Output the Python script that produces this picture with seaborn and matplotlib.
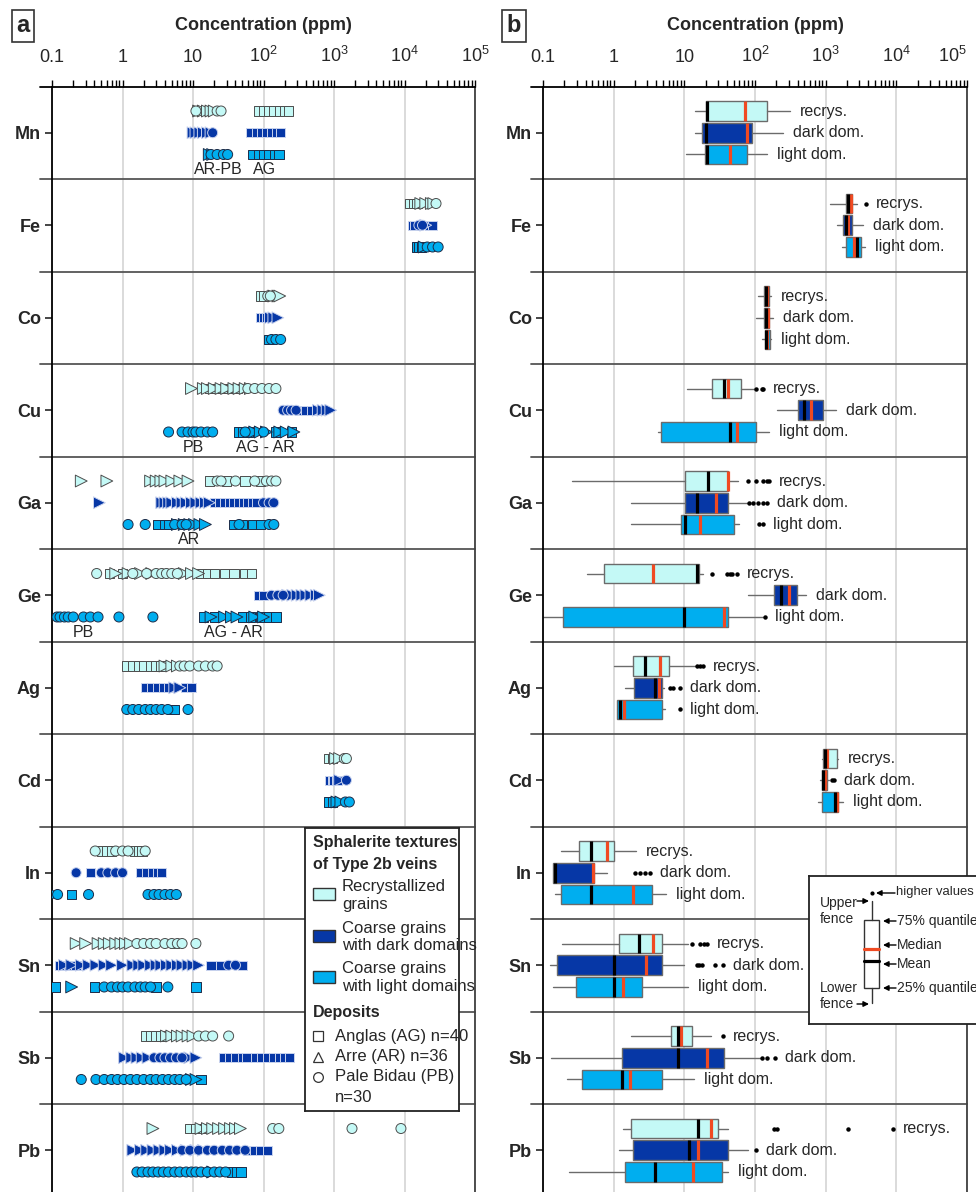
import numpy as np
import pandas as pd
import matplotlib
matplotlib.use("Agg")
import matplotlib.pyplot as plt
from matplotlib.patches import Rectangle
from matplotlib.ticker import LogLocator, NullFormatter
import seaborn as sns

ELEMENTS = ["Mn", "Fe", "Co", "Cu", "Ga", "Ge", "Ag", "Cd", "In", "Sn", "Sb", "Pb"]
TEXTURES = ["recrys", "dark", "light"]
BOX_NAMES = ["recrys.", "dark dom.", "light dom."]
DEPOSITS = ["AG", "AR", "PB"]

# panel a: single spot analyses (ppm), texture -> deposit -> values
MN_PTS = {
    "recrys": {"AG": [85, 100, 120, 140, 170, 200, 225], "AR": [12, 14, 16, 18, 20], "PB": [11, 22, 25]},
    "dark": {"AG": [65, 80, 95, 110, 130, 155, 175], "AR": [10, 11, 12.5, 14, 16, 18], "PB": [19]},
    "light": {"AG": [70, 85, 100, 120, 145, 165], "AR": [17, 19], "PB": [18, 22, 27, 31]},
}
FE_PTS = {
    "recrys": {"AG": [12000, 13500, 15000], "AR": [17000, 20000, 24000, 26000], "PB": [28000]},
    "dark": {"AG": [13000, 14000, 23000, 25000], "AR": [20000], "PB": [16000, 18000]},
    "light": {"AG": [15000, 16000, 17500], "AR": [19000], "PB": [21000, 25000, 30000]},
}
CO_PTS = {
    "recrys": {"AG": [92, 100], "AR": [140, 160, 170], "PB": [115, 125]},
    "dark": {"AG": [90, 100, 110], "AR": [125, 140, 160], "PB": []},
    "light": {"AG": [120], "AR": [], "PB": [130, 150, 175]},
}
CU_PTS = {
    "recrys": {"AG": [17, 22, 28, 35, 42], "AR": [9.5, 14, 16, 20, 25, 30, 38, 45, 55, 65], "PB": [60, 75, 95, 120, 150]},
    "dark": {"AG": [330, 400, 480, 560, 650], "AR": [600, 700, 800, 900], "PB": [190, 220, 250, 290]},
    "light": {"AG": [45, 50, 60, 150, 250], "AR": [75, 90, 110, 170, 210, 270],
              "PB": [4.5, 7, 8.5, 10, 11, 13, 16, 19, 55, 100]},
}
GA_PTS = {
    "recrys": {"AG": [17, 30, 55, 90], "AR": [0.26, 0.6, 2.5, 3, 3.5, 4, 5, 6.5, 8.5],
               "PB": [22, 25, 40, 75, 110, 130, 150]},
    "dark": {"AG": [20, 24, 28, 33, 38, 45, 52, 60, 70, 80],
             "AR": [0.47, 3.6, 4, 4.5, 5, 6, 7, 8, 9.5, 11, 13, 15, 17], "PB": [100, 120, 140]},
    "light": {"AG": [3.2, 4, 4.5, 38, 50, 70, 90], "AR": [6, 7.5, 9, 10.5, 12.5, 15],
              "PB": [1.2, 2.1, 5.5, 7, 8, 45, 120, 140]},
}
GE_PTS = {
    "recrys": {"AG": [0.65, 1.0, 13, 16, 20, 28, 38, 55, 68], "AR": [0.8, 1.2, 1.8, 2.6, 7.5, 9.5, 12],
               "PB": [0.43, 1.4, 2.2, 3, 3.6, 4.2, 5, 6]},
    "dark": {"AG": [85, 100], "AR": [220, 260, 300, 350, 400, 470, 560, 620], "PB": [130, 160, 190]},
    "light": {"AG": [14, 20, 50, 65, 90, 120, 150], "AR": [18, 28, 35, 42, 75, 100],
              "PB": [0.118, 0.13, 0.15, 0.17, 0.2, 0.28, 0.35, 0.45, 0.89, 2.7]},
}
AG_PTS = {
    "recrys": {"AG": [1.15, 1.4, 1.7, 2.0, 2.5, 3.0, 3.5], "AR": [4.0, 5.0, 6.0], "PB": [6.5, 7.5, 9, 12, 15, 19, 22]},
    "dark": {"AG": [2.1, 2.6, 3.2, 3.8, 4.5, 8, 9.5], "AR": [5.5, 6.5], "PB": []},
    "light": {"AG": [5.0, 5.5], "AR": [], "PB": [1.15, 1.4, 1.7, 2.1, 2.5, 3.0, 3.6, 4.4, 8.5]},
}
CD_PTS = {
    "recrys": {"AG": [850, 950], "AR": [1050, 1200], "PB": [1400, 1500]},
    "dark": {"AG": [880, 950, 1000, 1100], "AR": [1200], "PB": [1500]},
    "light": {"AG": [850, 950], "AR": [1100, 1250], "PB": [1450, 1650]},
}
IN_PTS = {
    "recrys": {"AG": [0.5, 0.6, 0.7, 1.5, 1.7, 1.9], "AR": [], "PB": [0.41, 0.8, 1.0, 1.2, 2.1]},
    "dark": {"AG": [0.35, 1.8, 2.2, 2.7, 3.2, 3.6], "AR": [], "PB": [0.22, 0.5, 0.62, 0.8, 1.0]},
    "light": {"AG": [0.19], "AR": [0.11], "PB": [0.12, 0.33, 2.3, 2.8, 3.3, 4.0, 4.8, 5.8]},
}
SN_PTS = {
    "recrys": {"AG": [5.5], "AR": [0.22, 0.3, 0.45, 0.55, 0.65, 0.8, 0.95, 1.1, 1.3],
               "PB": [1.6, 2.0, 2.5, 3.0, 4, 5, 6, 7, 11]},
    "dark": {"AG": [0.13, 0.17, 0.22, 18, 25, 50],
             "AR": [0.15, 0.19, 0.26, 0.33, 0.42, 0.55, 0.7, 1.0, 1.4, 1.7, 2.0, 2.5, 3.0, 3.5, 4.2,
                    5, 6, 7, 8.5, 10, 12], "PB": [32, 40]},
    "light": {"AG": [0.11, 0.4, 3.0, 11], "AR": [0.19], "PB": [0.55, 0.7, 0.85, 1.0, 1.2, 1.5, 1.8, 2.1, 2.5, 4.4]},
}
SB_PTS = {
    "recrys": {"AG": [2.1, 2.5, 3.0, 3.5], "AR": [4.2, 5.0, 6.0, 7.0, 8.5, 10], "PB": [12, 15, 19, 32]},
    "dark": {"AG": [27, 33, 40, 50, 58, 78, 95, 115, 140, 170, 200, 235],
             "AR": [1.07, 1.35, 1.6, 1.9, 2.3, 9, 11], "PB": [2.8, 3.4, 4.0, 4.8, 5.8, 7]},
    "light": {"AG": [13], "AR": [9.5, 11],
              "PB": [0.26, 0.42, 0.55, 0.7, 0.85, 1.05, 1.3, 1.6, 2.0, 2.5, 3.0, 3.7, 4.5, 5.5, 6.5, 8]},
}
PB_PTS = {
    "recrys": {"AG": [9, 11, 14], "AR": [2.7, 13, 16, 19, 23, 28, 34, 40, 47], "PB": [135, 165, 1800, 8900]},
    "dark": {"AG": [60, 75, 90, 115], "AR": [1.4, 1.8, 2.2, 2.7, 3.3, 4.0, 4.8, 6, 8, 11, 14],
             "PB": [7, 9, 12, 16, 20, 26, 33, 42, 55]},
    "light": {"AG": [35, 42, 48], "AR": [19],
              "PB": [1.6, 1.9, 2.3, 2.7, 3.2, 3.8, 4.5, 5.5, 6.5, 8, 9.5, 11, 13, 16, 20, 24, 29]},
}
POINTS = [MN_PTS, FE_PTS, CO_PTS, CU_PTS, GA_PTS, GE_PTS, AG_PTS, CD_PTS, IN_PTS, SN_PTS, SB_PTS, PB_PTS]

# deposit notes written under some groups in panel a (element, text, ppm)
A_NOTES = [("Mn", "AR-PB", 22.6), ("Mn", "AG", 105), ("Cu", "PB", 10), ("Cu", "AG - AR", 105),
           ("Ga", "AR", 8.8), ("Ge", "PB", 0.275), ("Ge", "AG - AR", 37)]

# panel b: (lower fence, q25, median, mean, q75, upper fence, higher values)
BOX_RECRYS = {
    "Mn": (14, 20, 72, 20.8, 147, 312, []),
    "Fe": (1150, 1930, 2250, 2050, 2340, 2750, [3700]),
    "Co": (110, 134, 147, 142, 160, 170, []),
    "Cu": (10.9, 25, 41, 36, 63, 100, [105, 125, 130]),
    "Ga": (0.26, 10.2, 41, 21.6, 42, 57, [80, 103, 130, 147, 160]),
    "Ge": (0.42, 0.73, 3.6, 15, 16, 18.3, [25, 40, 44, 48, 55]),
    "Ag": (1.0, 1.87, 4.5, 2.8, 6.0, 14, [15, 16.5, 18.5]),
    "Cd": (890, 910, 1050, 970, 1440, 1480, []),
    "In": (0.18, 0.32, 0.80, 0.48, 1.0, 2.1, []),
    "Sn": (0.185, 1.19, 3.6, 2.3, 4.8, 11.2, [12.7, 16.6, 18.8, 21]),
    "Sb": (1.75, 6.5, 8.9, 8.1, 12.7, 23.8, [35]),
    "Pb": (1.35, 1.75, 23.8, 15.5, 30, 41, [183, 205, 2050, 9100]),
}
BOX_DARK = {
    "Mn": (14, 17.7, 77, 20, 90, 248, []),
    "Fe": (1450, 1750, 2100, 1950, 2340, 3400, []),
    "Co": (105, 134, 152, 142, 160, 182, []),
    "Cu": (205, 405, 620, 490, 910, 1390, []),
    "Ga": (1.76, 10.2, 28, 15, 41, 77, [82, 93, 110, 130, 147]),
    "Ge": (80, 186, 300, 230, 390, 525, []),
    "Ag": (1.45, 1.93, 4.4, 3.8, 4.8, 5.2, [6.2, 6.9, 8.7]),
    "Cd": (830, 880, 970, 910, 1050, 1100, [1230, 1300]),
    "In": (0.14, 0.14, 0.51, 0.15, 0.53, 0.8, [2.0, 2.35, 2.8, 3.3]),
    "Sn": (0.125, 0.157, 2.9, 1.0, 4.8, 9.8, [15, 16, 17.7, 27, 35]),
    "Sb": (0.13, 1.3, 20.8, 8.1, 36, 117, [125, 147, 190]),
    "Pb": (1.19, 1.87, 15.5, 11.6, 41, 80, [103]),
}
BOX_LIGHT = {
    "Mn": (10.5, 19.5, 44, 20.8, 77, 147, []),
    "Fe": (1700, 1930, 2500, 2750, 3150, 3580, []),
    "Co": (125, 138, 147, 142, 165, 170, []),
    "Cu": (4.2, 4.6, 55, 44, 103, 160, []),
    "Ga": (1.76, 8.9, 16.6, 10.2, 50, 59, [113, 130]),
    "Ge": (0.1, 0.19, 36, 9.9, 42, 130, [140]),
    "Ag": (1.1, 1.12, 1.4, 1.22, 4.8, 5.3, [8.7]),
    "Cd": (770, 880, 1450, 1350, 1480, 1750, []),
    "In": (0.15, 0.18, 1.9, 0.48, 3.5, 5.5, []),
    "Sn": (0.14, 0.29, 1.35, 1.0, 2.5, 11.2, []),
    "Sb": (0.22, 0.36, 1.7, 1.3, 4.8, 13.7, []),
    "Pb": (0.23, 1.45, 13.2, 3.8, 34, 41, []),
}
BOXES = [BOX_RECRYS, BOX_DARK, BOX_LIGHT]

XTICKS = [0.1, 1, 10, 100, 1e3, 1e4, 1e5]
XTICK_LABELS = ["0.1", "1", "10", r"$\mathregular{10^2}$", r"$\mathregular{10^3}$",
                r"$\mathregular{10^4}$", r"$\mathregular{10^5}$"]

FILL = {"recrys": "#c4f9f6", "dark": "#0637a6", "light": "#00aeef"}
EDGE = {"recrys": "#4d4d4d", "dark": "#c9d3ee", "light": "#1d2c48"}
OFFSET = {"recrys": -0.235, "dark": 0.0, "light": 0.235}
MARKERS = {"AG": "s", "AR": ">", "PB": "o"}
SIZES = {"AG": 46, "AR": 72, "PB": 52}
RED = "#f04a22"

sns.set_style("white")
plt.rcParams["font.family"] = ["Liberation Sans", "DejaVu Sans"]
plt.rcParams["mathtext.fontset"] = "custom"
plt.rcParams["mathtext.rm"] = "Liberation Sans"

W, H = 976, 1192
fig = plt.figure(figsize=(W / 100, H / 100), dpi=100)


def px_rect(x0, y0, x1, y1):
    return [x0 / W, 1 - y1 / H, (x1 - x0) / W, (y1 - y0) / H]


def style_axis(ax, width_px):
    ax.set_xscale("log")
    ax.set_xlim(0.1, 1e5)
    ax.set_ylim(12, 0)
    ax.set_xticks(XTICKS, labels=XTICK_LABELS)
    ax.xaxis.set_minor_locator(LogLocator(base=10, subs=np.arange(2, 10)))
    ax.xaxis.set_minor_formatter(NullFormatter())
    ax.xaxis.tick_top()
    ax.tick_params(axis="x", which="both", top=True, bottom=False, labeltop=True, labelbottom=False,
                   direction="out", length=5, width=1, color="black", pad=10, labelsize=13)
    ax.set_yticks(np.arange(12) + 0.5, labels=ELEMENTS)
    ax.tick_params(axis="y", left=True, direction="out", length=5, width=1.2, pad=3, labelsize=13)
    for lab in ax.get_yticklabels():
        lab.set_fontweight("bold")
    ax.set_xlabel("")
    ax.set_ylabel("")
    ax.grid(axis="x", which="major", color="#d4d4d4", lw=1.2)
    ax.set_axisbelow(True)
    for side in ["top", "left"]:
        ax.spines[side].set_color("black")
        ax.spines[side].set_linewidth(1.3)
    ax.spines["right"].set_color("#404040")
    ax.spines["right"].set_linewidth(1.3)
    ax.spines["bottom"].set_visible(False)
    ext = -12 / width_px
    for r in range(1, 12):
        ax.axhline(r, xmin=ext, xmax=1, color="#555555", lw=1.3, clip_on=False, zorder=2)
    ax.axhline(0, xmin=ext, xmax=0, color="black", lw=1.3, clip_on=False)


# ---------------- panel a ----------------
ax_a = fig.add_axes(px_rect(52, 86.5, 475, 1196.5))
ax_a.set_xscale("log")
rows = []
for i, (el, pts) in enumerate(zip(ELEMENTS, POINTS)):
    for tex in TEXTURES:
        for dep in DEPOSITS:
            for v in pts[tex][dep]:
                rows.append({"element": el, "texture": tex, "deposit": dep, "value": v,
                             "y": i + 0.5 + OFFSET[tex]})
df = pd.DataFrame(rows)
for tex in TEXTURES:
    sub = df[df["texture"] == tex]
    sns.scatterplot(data=sub, x="value", y="y", style="deposit", style_order=DEPOSITS, markers=MARKERS,
                    size="deposit", size_order=DEPOSITS, sizes=SIZES,
                    color=FILL[tex], edgecolor=EDGE[tex], linewidth=0.7, legend=False,
                    ax=ax_a, zorder=3)
style_axis(ax_a, 423)
for el, txt, xv in A_NOTES:
    ax_a.text(xv, ELEMENTS.index(el) + 0.9, txt, ha="center", va="center", fontsize=11.5)

# ---------------- panel b ----------------
ax_b = fig.add_axes(px_rect(543, 86.5, 967, 1196.5))
ax_b.set_xscale("log")
for t, (tex, table) in enumerate(zip(TEXTURES, BOXES)):
    stats = []
    for el in ELEMENTS:
        lo, q1, med, mean, q3, hi, fl = table[el]
        stats.append({"whislo": lo, "q1": q1, "med": med, "mean": mean, "q3": q3,
                      "whishi": hi, "fliers": np.array(fl, dtype=float)})
    pos = [i + 0.5 + OFFSET[tex] for i in range(len(ELEMENTS))]
    ax_b.bxp(stats, positions=pos, widths=0.215, orientation="horizontal", patch_artist=True,
             showmeans=True, meanline=True, showcaps=False, manage_ticks=False,
             boxprops=dict(facecolor=FILL[tex], edgecolor="#6b6b6b", linewidth=1.0),
             medianprops=dict(color=RED, linewidth=2.3),
             meanprops=dict(color="black", linewidth=2.3, linestyle="-"),
             whiskerprops=dict(color="#6b6b6b", linewidth=1.0),
             flierprops=dict(marker="o", markerfacecolor="black", markeredgecolor="black",
                             markersize=2.2, linestyle="none"))
    for el, y in zip(ELEMENTS, pos):
        lo, q1, med, mean, q3, hi, fl = table[el]
        end = max([hi] + list(fl))
        ax_b.text(end * 1.38, y, BOX_NAMES[t], ha="left", va="center", fontsize=11.5)
style_axis(ax_b, 424)
ax_b.get_xticklabels()[-1].set_horizontalalignment("right")

# ---------------- titles ----------------
for cx, letter, lx in [(263, "a", 23), (755, "b", 514)]:
    fig.text(cx / W, 1 - 25 / H, "Concentration (ppm)", ha="center", va="center",
             fontsize=13, fontweight="bold")
    fig.text(lx / W, 1 - 26 / H, letter, ha="center", va="center", fontsize=17, fontweight="bold",
             bbox=dict(boxstyle="square,pad=0.2", fc="white", ec="#333333", lw=1.2))


def px_axes(x0, y0, x1, y1):
    ax = fig.add_axes(px_rect(x0, y0, x1, y1))
    ax.set_xlim(x0, x1)
    ax.set_ylim(y1, y0)
    ax.set_xticks([])
    ax.set_yticks([])
    ax.set_facecolor("white")
    for s in ax.spines.values():
        s.set_visible(True)
        s.set_color("#222222")
        s.set_linewidth(1.3)
    return ax


# ---------------- legend panel a ----------------
lg = px_axes(305, 828, 459, 1111)
kw = dict(va="center", ha="left", clip_on=False)
lg.text(313, 843, "Sphalerite textures", fontsize=11.5, fontweight="bold", **kw)
lg.text(313, 864, "of Type 2b veins", fontsize=11.5, fontweight="bold", **kw)
for tex, ytop, l1, l2 in [("recrys", 888, "Recrystallized", "grains"),
                          ("dark", 930, "Coarse grains", "with dark domains"),
                          ("light", 971, "Coarse grains", "with light domains")]:
    lg.add_patch(Rectangle((313, ytop), 22, 12, facecolor=FILL[tex], edgecolor="#333333", lw=1))
    lg.text(342, ytop - 2, l1, fontsize=12, **kw)
    lg.text(342, ytop + 16, l2, fontsize=12, **kw)
lg.text(313, 1013, "Deposits", fontsize=11.5, fontweight="bold", **kw)
for mk, y, txt in [("s", 1036, "Anglas (AG) n=40"), ("^", 1057, "Arre (AR) n=36"),
                   ("o", 1077, "Pale Bidau (PB)")]:
    lg.plot([318], [y], marker=mk, ms=7, mfc="white", mec="#333333", mew=0.9, ls="none")
    lg.text(335, y, txt, fontsize=12, **kw)
lg.text(335, 1097, "n=30", fontsize=12, **kw)

# ---------------- legend panel b ----------------
lb = px_axes(809, 876, 1000, 1024)
lb.plot([872, 872], [901, 920], color="#333333", lw=1)
lb.plot([872, 872], [988, 1003], color="#333333", lw=1)
lb.add_patch(Rectangle((864, 920), 15, 68, facecolor="white", edgecolor="#333333", lw=1))
lb.plot([864, 879], [949, 949], color=RED, lw=2.3)
lb.plot([864, 879], [961, 961], color="black", lw=2.3)
lb.plot([872], [893], marker="o", ms=2, color="black")
arr = dict(arrowstyle="-|>", lw=1, color="black", mutation_scale=8, shrinkA=0, shrinkB=0)
lb.text(820, 903, "Upper", fontsize=10, **kw)
lb.text(820, 919, "fence", fontsize=10, **kw)
lb.annotate("", xy=(869, 901), xytext=(857, 901), arrowprops=arr)
lb.text(820, 988, "Lower", fontsize=10, **kw)
lb.text(820, 1004, "fence", fontsize=10, **kw)
lb.annotate("", xy=(869, 1004), xytext=(857, 1004), arrowprops=arr)
lb.annotate("", xy=(876, 893), xytext=(895, 893), arrowprops=arr)
lb.text(896, 892, "higher values", fontsize=9.4, **kw)
for y, txt in [(921, "75% quantile"), (945, "Median"), (964, "Mean"), (988, "25% quantile")]:
    lb.annotate("", xy=(883, y), xytext=(896, y), arrowprops=arr)
    lb.text(897, y, txt, fontsize=10, **kw)

fig.savefig("out.png", dpi=100)
